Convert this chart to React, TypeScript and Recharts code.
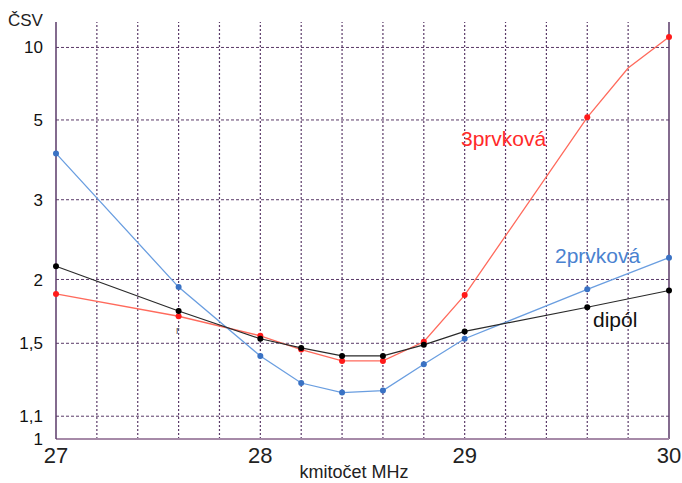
import { LineChart, Line, XAxis, YAxis, ReferenceLine } from 'recharts';

// kmitočet v MHz
const frekvence = [27, 27.6, 28, 28.2, 28.4, 28.6, 28.8, 29, 29.6, 29.8, 30];
// ČSV jednotlivých antén (null = bez měření)
const csv3prvkova = [1.87, 1.69, 1.55, 1.46, 1.39, 1.39, 1.51, 1.86, 5.1, 7.9, 11.5];
const csv2prvkova = [3.96, 1.93, 1.42, 1.265, 1.215, 1.225, 1.37, 1.53, 1.91, null, 2.22];
const csvDipol = [2.13, 1.73, 1.53, 1.47, 1.42, 1.42, 1.49, 1.58, 1.76, null, 1.9];
// body bez značky
const bezZnacky = [29.8];

const xTicks = [27, 28, 29, 30];
const xMrizka = [27.2, 27.4, 27.6, 27.8, 28, 28.2, 28.4, 28.6, 28.8, 29, 29.2, 29.4, 29.6, 29.8];
const yTickCsv = [1, 1.1, 1.5, 2, 3, 5, 10];
const yTickLabels = ['1', '1,1', '1,5', '2', '3', '5', '10'];
const yMax = 14.55;

// stupnice ČSV je lineární v činiteli odrazu
const odraz = (s: number | null) => (s == null ? null : (s - 1) / (s + 1));

const data = frekvence.map((f, i) => ({
	f,
	p3: odraz(csv3prvkova[i]),
	p2: odraz(csv2prvkova[i]),
	dipol: odraz(csvDipol[i]),
}));

const GRID = '#5a3a68';
const FONT = '"Liberation Sans", Arial, sans-serif';

const makeDot = (fill: string) => (props: any) => {
	const { cx, cy, payload, index } = props;
	if (cx == null || cy == null || bezZnacky.includes(payload.f)) return <g key={`e-${index}`} />;
	return <circle key={`d-${index}`} cx={cx} cy={cy} r={3} fill={fill} stroke='none' />;
};

export default function App() {
	return (
		<div style={{ position: 'absolute', left: 0, top: 0, width: 682, height: 483, background: '#fff' }}>
			<LineChart
				width={682}
				height={483}
				data={data}
				margin={{ top: 22, right: 13, bottom: 0, left: 0 }}
			>
				{xMrizka.map((x) => (
					<ReferenceLine key={`vx-${x}`} x={x} stroke={GRID} strokeDasharray='2 2' strokeWidth={1.2} />
				))}
				{yTickCsv.slice(1).map((s) => (
					<ReferenceLine key={`hy-${s}`} y={odraz(s)!} stroke={GRID} strokeDasharray='3 2' strokeWidth={1} />
				))}
				<ReferenceLine x={30} stroke={GRID} strokeWidth={1.5} />
				<XAxis
					dataKey='f'
					type='number'
					domain={[27, 30]}
					ticks={xTicks}
					height={44}
					tickLine={false}
					tickSize={0}
					tickMargin={8}
					axisLine={{ stroke: '#a68aa8', strokeWidth: 2 }}
					tick={{ fill: '#222', fontSize: 22, fontFamily: FONT }}
					interval={0}
				/>
				<YAxis
					type='number'
					domain={[0, odraz(yMax)!]}
					ticks={yTickCsv.map((s) => odraz(s)!)}
					tickFormatter={(_v: number, i: number) => yTickLabels[i]}
					width={56}
					tickLine={false}
					tickSize={0}
					tickMargin={13}
					axisLine={{ stroke: GRID, strokeWidth: 1.5 }}
					tick={{ fill: '#111', fontSize: 17, fontFamily: FONT }}
					interval={0}
				/>
				<Line
					dataKey='p3'
					type='linear'
					stroke='#ff6a5c'
					strokeWidth={1.3}
					dot={makeDot('#ff1a1a')}
					activeDot={false}
					isAnimationActive={false}
				/>
				<Line
					dataKey='p2'
					type='linear'
					stroke='#6a9ee0'
					strokeWidth={1.3}
					connectNulls
					dot={makeDot('#3a72c4')}
					activeDot={false}
					isAnimationActive={false}
				/>
				<Line
					dataKey='dipol'
					type='linear'
					stroke='#2a2a2a'
					strokeWidth={1.2}
					connectNulls
					dot={makeDot('#000')}
					activeDot={false}
					isAnimationActive={false}
				/>
			</LineChart>
			<svg
				width={682}
				height={483}
				style={{ position: 'absolute', left: 0, top: 0, pointerEvents: 'none' }}
				fontFamily={FONT}
			>
				<text x={8} y={26} fontSize={17} fill='#222'>ČSV</text>
				<text x={354} y={478} fontSize={18} fill='#222' textAnchor='middle'>kmitočet MHz</text>
				<text x={461} y={146} fontSize={21} fill='#ff2a2a'>3prvková</text>
				<text x={555} y={263} fontSize={21} fill='#4a82d0'>2prvková</text>
				<text x={593} y={327} fontSize={21} fill='#111'>dipól</text>
				<text x={176} y={334} fontSize={10} fill='#555'>r</text>
			</svg>
		</div>
	);
}
